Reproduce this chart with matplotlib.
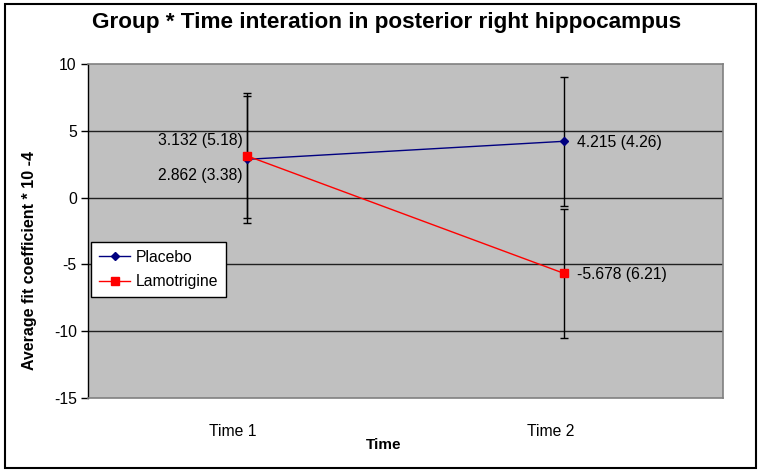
import matplotlib
matplotlib.use("Agg")
import matplotlib.pyplot as plt
import matplotlib.transforms as mtransforms
from matplotlib.patches import Rectangle

# --- data ---
TIMES = ["Time 1", "Time 2"]
PLACEBO_MEAN = [2.862, 4.215]
PLACEBO_SD = [3.38, 4.26]
PLACEBO_ERR = [4.76, 4.84]
LAMO_MEAN = [3.132, -5.678]
LAMO_SD = [5.18, 6.21]
LAMO_ERR = [4.68, 4.80]

OUTPUT_PATH = "out.png"


def main():
    plt.rcParams["font.family"] = ["Liberation Sans", "DejaVu Sans"]
    plt.rcParams["axes.unicode_minus"] = False

    fig = plt.figure(figsize=(7.61, 4.73), dpi=100)
    ax = fig.add_axes([0.1156, 0.1586, 0.8344, 0.7061])
    ax.set_facecolor("#C0C0C0")

    x = list(range(len(TIMES)))

    # --- error bars (black) ---
    ax.errorbar(x, PLACEBO_MEAN, yerr=PLACEBO_ERR, fmt="none", ecolor="black",
                elinewidth=1, capsize=3, capthick=1, zorder=3)
    ax.errorbar(x, LAMO_MEAN, yerr=LAMO_ERR, fmt="none", ecolor="black",
                elinewidth=1, capsize=3, capthick=1, zorder=3)

    # --- series ---
    ax.plot(x, PLACEBO_MEAN, color="#000080", marker="D", markersize=4.5,
            linewidth=1, label="Placebo", zorder=4)
    ax.plot(x, LAMO_MEAN, color="#FF0000", marker="s", markersize=6,
            linewidth=1, label="Lamotrigine", zorder=5)

    # --- value labels: mean (sd) ---
    ax.annotate(f"{LAMO_MEAN[0]:.3f} ({LAMO_SD[0]:.2f})", (x[0], LAMO_MEAN[0]),
                xytext=(-4, 15), textcoords="offset pixels",
                ha="right", va="center", fontsize=11.3)
    ax.annotate(f"{PLACEBO_MEAN[0]:.3f} ({PLACEBO_SD[0]:.2f})", (x[0], PLACEBO_MEAN[0]),
                xytext=(-4, -16), textcoords="offset pixels",
                ha="right", va="center", fontsize=11.3)
    ax.annotate(f"{PLACEBO_MEAN[1]:.3f} ({PLACEBO_SD[1]:.2f})", (x[1], PLACEBO_MEAN[1]),
                xytext=(13, -1), textcoords="offset pixels",
                ha="left", va="center", fontsize=11.3)
    ax.annotate(f"{LAMO_MEAN[1]:.3f} ({LAMO_SD[1]:.2f})", (x[1], LAMO_MEAN[1]),
                xytext=(13, -1), textcoords="offset pixels",
                ha="left", va="center", fontsize=11.3)

    # --- axes ---
    ax.set_xlim(-0.5, 1.5)
    ax.set_ylim(-15, 10)
    ax.set_yticks([-15, -10, -5, 0, 5, 10])
    ax.set_xticks(x)
    ax.set_xticklabels(TIMES, fontsize=11.3)
    ax.tick_params(axis="x", length=0, pad=19)
    ax.tick_params(axis="y", length=5, width=1, direction="out", labelsize=11.3, pad=3)
    shift = mtransforms.ScaledTranslation(-0.14, 0, fig.dpi_scale_trans)
    for lbl in ax.get_xticklabels():
        lbl.set_transform(lbl.get_transform() + shift)

    for yv in [-10, -5, 0, 5]:
        ax.axhline(yv, color="#202020", linewidth=1, zorder=1)

    for side in ["top", "right", "bottom"]:
        ax.spines[side].set_color("#808080")
        ax.spines[side].set_linewidth(1.2)
    ax.spines["left"].set_color("black")
    ax.spines["left"].set_linewidth(1)

    ax.set_xlabel("Time", fontsize=11, fontweight="bold")
    ax.set_ylabel("Average fit coefficient * 10 -4", fontsize=11.5,
                  fontweight="bold")
    ax.yaxis.set_label_coords(-0.08, 0.413)
    ax.xaxis.set_label_coords(0.465, -0.12)

    fig.text(0.508, 0.953, "Group * Time interation in posterior right hippocampus",
             ha="center", va="center", fontsize=16.2, fontweight="bold")

    leg = ax.legend(loc="upper left", bbox_to_anchor=(0.005, 0.467), fontsize=11.3,
                    frameon=True, fancybox=False, borderpad=0.5, borderaxespad=0,
                    handlelength=2.0, handletextpad=0.35, labelspacing=0.6)
    leg.get_frame().set_edgecolor("black")
    leg.get_frame().set_facecolor("white")
    leg.get_frame().set_alpha(1)
    leg.get_frame().set_linewidth(1)

    # --- outer chart border ---
    fig.patches.append(Rectangle((0.006, 0.011), 0.988, 0.981, transform=fig.transFigure,
                                 fill=False, edgecolor="black", linewidth=1.5))

    fig.savefig(OUTPUT_PATH, dpi=100)
    plt.close(fig)


if __name__ == "__main__":
    main()
